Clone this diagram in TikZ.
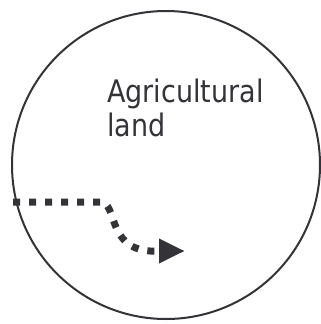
\documentclass[tikz,border=0pt]{standalone}
\usepackage{fontspec}
\setmainfont[FakeStretch=0.87]{DejaVu Sans}
\usepackage{xcolor}
\usetikzlibrary{positioning, arrows.meta}
\definecolor{ink}{RGB}{51,51,56}

\begin{document}
\begin{tikzpicture}[
  x=1pt, y=-1pt,
  area/.style={draw=ink, line width=2pt, circle, minimum size=308pt, inner sep=0pt},
  caption/.style={text=ink, align=left, inner sep=0pt, font=\fontsize{31}{34}\selectfont},
  flow/.style={ink, line width=7pt, dash pattern=on 7pt off 9pt, -{Triangle[length=26pt, width=23pt]}}
]
  \useasboundingbox (0,0) rectangle (321,324);
  \node[area] (field) at (166,165) {};
  \node[caption, anchor=base west] (name) at (107,136) {Agricultural\\land};
  % path of the dotted arrow
  \coordinate (start) at (13,202);
  \coordinate (bend) at (100,202);
  \coordinate (low) at (150,251);
  \coordinate (tip) at (185,251);
  \draw[flow] (start) -- (bend) .. controls (118,202) and (106,248) .. (low) -- (tip);
\end{tikzpicture}
\end{document}
